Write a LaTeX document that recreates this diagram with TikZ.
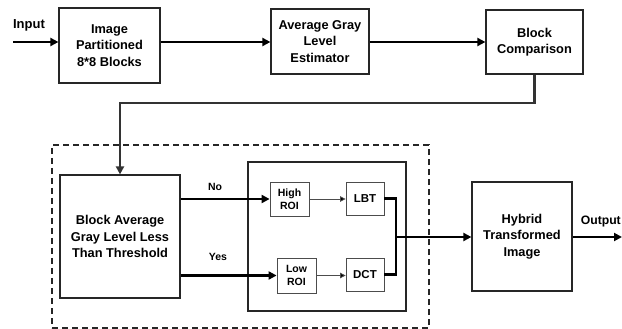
\documentclass[tikz,border=0pt]{standalone}
\usepackage{fontspec}
\setmainfont{Liberation Sans}
\usetikzlibrary{arrows.meta,calc}
\begin{document}
\begin{tikzpicture}[x=1pt,y=-1pt,
  every node/.style={font=\bfseries},
  bigbox/.style={draw=black!85,line width=1.2pt,inner sep=0pt,align=center,
     font=\fontsize{12.8}{16.5}\selectfont\bfseries},
  smallbox/.style={draw=black!70,line width=0.8pt,inner sep=0pt,align=center,
     font=\fontsize{10.5}{12.5}\selectfont\bfseries},
  thick arrow/.style={line width=2.4pt,-{Triangle[length=8pt,width=8pt]}},
  thin arrow/.style={line width=0.8pt,draw=black!70,-{Triangle[length=5.5pt,width=5.5pt,fill=black]}},
  lbl/.style={font=\fontsize{10.5}{12}\selectfont\bfseries,inner sep=0pt}]
\useasboundingbox (0,0) rectangle (622,329);
% frames
\node[draw=black!85,dashed,dash pattern=on 6pt off 4pt,line width=1.1pt,minimum width=377pt,minimum height=183pt,inner sep=0pt] (dash) at (240.5,236.5) {};
\node[draw=black!85,line width=1.1pt,minimum width=158pt,minimum height=149pt,inner sep=0pt] (inner) at (327,236.5) {};
% main boxes
\node[bigbox,minimum width=101pt,minimum height=75pt] (b1) at (109.5,45.5) {Image\\Partitioned\\8*8 Blocks};
\node[bigbox,minimum width=98pt,minimum height=65pt] (b2) at (320,41.5) {Average Gray\\Level\\Estimator};
\node[bigbox,minimum width=97pt,minimum height=64pt] (b3) at (534.5,42) {Block\\Comparison};
\node[bigbox,minimum width=120pt,minimum height=123pt] (b4) at (120,236.5) {Block Average\\Gray Level Less\\Than Threshold};
\node[bigbox,minimum width=100pt,minimum height=109pt] (hyb) at (522,236.5) {Hybrid\\Transformed\\Image};
% small boxes
\node[smallbox,minimum width=39pt,minimum height=34pt] (hi) at (289.5,199) {High\\ROI};
\node[smallbox,minimum width=39pt,minimum height=35pt] (lo) at (296.5,275.5) {Low\\ROI};
\node[smallbox,minimum width=38pt,minimum height=33pt,font=\fontsize{11.5}{13}\selectfont\bfseries] (lbt) at (365,198.5) {LBT};
\node[smallbox,minimum width=38pt,minimum height=33pt,font=\fontsize{11.5}{13}\selectfont\bfseries] (dct) at (365,274.5) {DCT};
% texts
\node[font=\fontsize{13}{15}\selectfont\bfseries,inner sep=0pt] (in) at (29,25) {Input};
\node[font=\fontsize{12.2}{15}\selectfont\bfseries,inner sep=0pt,anchor=east] (out) at (621,222) {Output};
\node[lbl] (no) at (215,187) {No};
\node[lbl] (yes) at (218,257) {Yes};
% coordinates
\coordinate (r1) at (0,42);
\coordinate (start) at (13,42);
\coordinate (fb) at (0,103);
\coordinate (mx) at (396,237);
\coordinate (end) at (622,237);
% connectors
\draw[thick arrow] (start) -- (b1.west |- r1);
\draw[thick arrow] (b1.east |- r1) -- (b2.west |- r1);
\draw[thick arrow] (b2.east |- r1) -- (b3.west |- r1);
\draw[line width=2.2pt,draw=black!80,-{Triangle[length=8pt,width=8pt]}] (b3.south) -- (b3.south |- fb) -- (b4.north |- fb) -- (b4.north);
\draw[thick arrow] (b4.east |- hi.west) -- (hi.west);
\draw[thick arrow] (b4.east |- lo.west) -- (lo.west);
\draw[thin arrow] (hi.east) -- (hi.east -| lbt.west);
\draw[thin arrow] (lo.east) -- (lo.east -| dct.west);
\draw[line width=2.4pt] (lbt.east) -- (lbt.east -| mx) -- (dct.east -| mx) -- (dct.east);
\draw[thick arrow] (mx) -- (mx -| hyb.west);
\draw[thick arrow] (hyb.east |- end) -- (end);
\end{tikzpicture}
\end{document}
